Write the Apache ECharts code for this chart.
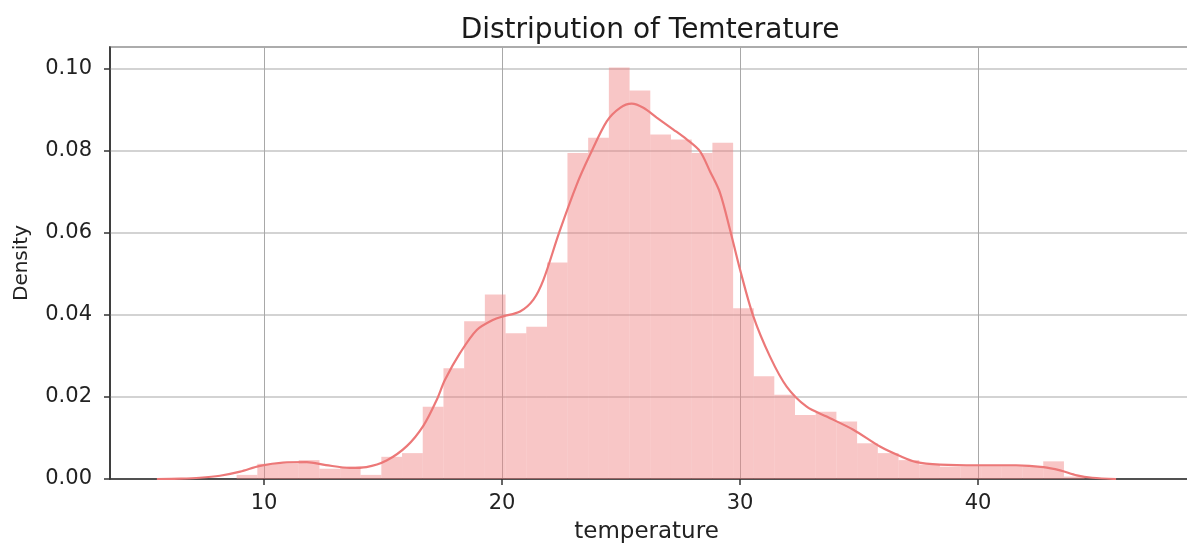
<!DOCTYPE html>
<html lang="en">
<head>
    <meta charset="UTF-8" />
    <title>Distripution of Temterature</title>
    <script src="https://cdn.jsdelivr.net/npm/echarts@6/dist/echarts.min.js"></script>
</head>
<body style="margin:0">
    <div id="chart" style="width:1187px;height:543px;"></div>
    <script type="text/javascript">
        // histogram bin edges (temperature) and bar heights (density)
        var binEdges = [8.85, 9.72, 10.59, 11.46, 12.33, 13.20, 14.06, 14.93, 15.80, 16.67,
            17.54, 18.41, 19.28, 20.15, 21.02, 21.89, 22.75, 23.62, 24.49, 25.36,
            26.23, 27.10, 27.97, 28.84, 29.71, 30.58, 31.44, 32.31, 33.18, 34.05,
            34.92, 35.79, 36.66, 37.53, 38.40, 39.27, 40.13, 41.00, 41.87, 42.74,
            43.61, 44.48];
        var binDensity = [0.0010, 0.0037, 0.0037, 0.0046, 0.0025, 0.0030, 0.0010, 0.0054, 0.0063, 0.0176,
            0.0270, 0.0384, 0.0449, 0.0355, 0.0371, 0.0527, 0.0794, 0.0831, 0.1002, 0.0946,
            0.0839, 0.0827, 0.0794, 0.0819, 0.0416, 0.0250, 0.0205, 0.0156, 0.0164, 0.0140,
            0.0087, 0.0063, 0.0046, 0.0035, 0.0030, 0.0030, 0.0030, 0.0030, 0.0030, 0.0043,
            0.0006];
        // kde curve
        var kdeX = [5.5, 6.5, 7.3, 8.15, 9.0, 9.83, 10.8, 11.8, 12.6, 13.6, 14.3, 15.15, 16.0, 16.7,
            17.26, 17.6, 18.24, 18.94, 19.64, 20.05, 20.76, 21.32, 21.74, 22.4, 23.14, 23.7, 24.4,
            24.96, 25.45, 25.94, 26.5, 27.2, 27.76, 28.32, 28.74, 29.16, 29.58, 30.0, 30.56, 31.26,
            31.96, 32.8, 33.64, 34.76, 35.88, 36.72, 37.42, 38.4, 39.95, 41.6, 42.75, 43.45, 44.15,
            44.8, 45.8];
        var kdeY = [0, 0.0001, 0.0003, 0.0008, 0.0018, 0.0032, 0.0040, 0.0041, 0.0034, 0.0027, 0.0029,
            0.0045, 0.0080, 0.0130, 0.0193, 0.0241, 0.0307, 0.0363, 0.0388, 0.0396, 0.0408, 0.0437,
            0.0485, 0.0600, 0.0717, 0.0790, 0.0871, 0.0904, 0.0914, 0.0904, 0.0880, 0.0851, 0.0827,
            0.0798, 0.0749, 0.0697, 0.0607, 0.0510, 0.0396, 0.0298, 0.0225, 0.0176, 0.0152, 0.0120,
            0.0079, 0.0056, 0.0041, 0.0035, 0.0033, 0.0033, 0.0029, 0.0021, 0.0009, 0.0003, 0];
        var xTicks = [10, 20, 30, 40];

        var font = 'DejaVu Sans';
        var chart = echarts.init(document.getElementById('chart'));

        var bars = [];
        for (var i = 0; i < binDensity.length; i++) {
            bars.push([binEdges[i], binEdges[i + 1], binDensity[i]]);
        }
        var kde = [];
        for (var j = 0; j < kdeX.length; j++) {
            kde.push([kdeX[j], kdeY[j]]);
        }

        var option = {
            animation: false,
            title: {
                text: 'Distripution of Temterature',
                left: 645,
                top: 12,
                textAlign: 'center',
                textStyle: { fontFamily: font, fontSize: 28, fontWeight: 'normal', color: '#1a1a1a' }
            },
            grid: {
                left: 110,
                width: 1087,
                top: 47,
                height: 432,
                outerBoundsMode: 'none',
                show: true,
                borderColor: '#333',
                borderWidth: 1.5
            },
            xAxis: {
                type: 'value',
                min: 3.53,
                max: 49.2,
                name: 'temperature',
                nameLocation: 'middle',
                nameGap: 42,
                nameTextStyle: { fontFamily: font, fontSize: 23, color: '#222', padding: [0, 14, 0, 0] },
                axisLine: { show: true, onZero: false, lineStyle: { color: '#333', width: 1.5 } },
                axisTick: { show: true, length: 6, customValues: xTicks, lineStyle: { color: '#333', width: 1.5 } },
                axisLabel: { customValues: xTicks, margin: 14, fontFamily: font, fontSize: 21, color: '#222' },
                splitLine: { show: true, lineStyle: { color: '#a8a8a8', width: 1 } }
            },
            yAxis: {
                type: 'value',
                min: 0,
                max: 0.1052,
                interval: 0.02,
                name: 'Density',
                nameLocation: 'middle',
                nameGap: 78,
                nameTextStyle: { fontFamily: font, fontSize: 20, color: '#222' },
                axisLine: { show: true, lineStyle: { color: '#333', width: 1.5 } },
                axisTick: { show: true, length: 6, lineStyle: { color: '#333', width: 1.5 } },
                axisLabel: {
                    margin: 18, fontFamily: font, fontSize: 21, color: '#222',
                    showMaxLabel: false,
                    formatter: function (v) { return v.toFixed(2); }
                },
                splitLine: { show: true, lineStyle: { color: '#c4c4c4', width: 1.5 } }
            },
            series: [{
                type: 'custom',
                data: bars,
                encode: { x: [0, 1], y: 2 },
                renderItem: function (params, api) {
                    var p0 = api.coord([api.value(0), api.value(2)]);
                    var p1 = api.coord([api.value(1), 0]);
                    return {
                        type: 'rect',
                        shape: { x: p0[0], y: p0[1], width: p1[0] - p0[0], height: p1[1] - p0[1] },
                        style: { fill: 'rgba(240,128,128,0.45)' }
                    };
                }
            }, {
                type: 'line',
                data: kde,
                smooth: 0.3,
                showSymbol: false,
                lineStyle: { color: '#ec7878', width: 2.2 }
            }]
        };

        chart.setOption(option);
    </script>
</body>
</html>
